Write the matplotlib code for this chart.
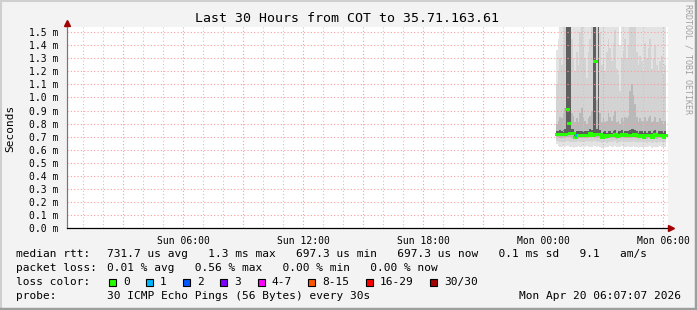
#!/usr/bin/env python3
import numpy as np
import matplotlib
matplotlib.use('Agg')
import matplotlib.pyplot as plt
from matplotlib.lines import Line2D
from matplotlib.patches import Rectangle

W, H = 697, 310
MONO = 'DejaVu Sans Mono'

# time axis in hours since Sun 00:00, smoke steps are 5 minutes long
x_min, x_max = 0.2, 30.25
t_start = 24.65
step_h = 5 / 60

# median rtt per step (ms) and lost pings per step
median = [0.719, 0.719, 0.721, 0.721, 0.719, 0.722, 0.915, 0.808, 0.727, 0.727,
          0.727, 0.698, 0.714, 0.716, 0.712, 0.714, 0.714, 0.716, 0.712, 0.714,
          0.727, 0.724, 0.716, 1.277, 0.720, 0.722, 0.718, 0.700, 0.712, 0.716,
          0.706, 0.712, 0.716, 0.709, 0.712, 0.722, 0.706, 0.716, 0.712, 0.722,
          0.709, 0.718, 0.712, 0.716, 0.712, 0.716, 0.720, 0.718, 0.712, 0.706,
          0.716, 0.712, 0.700, 0.716, 0.709, 0.712, 0.716, 0.700, 0.712, 0.718,
          0.709, 0.712, 0.716, 0.712, 0.700, 0.712]
loss = [0] * 12 + [1] + [0] * 53

# smoke: ping rtt quantiles per step (ms)
p_min = [0.64, 0.63, 0.62, 0.62, 0.63, 0.62, 0.63, 0.63, 0.62, 0.62,
         0.61, 0.62, 0.62, 0.63, 0.62, 0.62, 0.63, 0.62, 0.63, 0.62,
         0.62, 0.62, 0.63, 0.63, 0.62, 0.63, 0.62, 0.61, 0.62, 0.62,
         0.62, 0.62, 0.63, 0.62, 0.62, 0.63, 0.62, 0.62, 0.62, 0.63,
         0.62, 0.62, 0.62, 0.63, 0.62, 0.62, 0.63, 0.62, 0.62, 0.61,
         0.62, 0.62, 0.61, 0.62, 0.62, 0.62, 0.63, 0.61, 0.62, 0.62,
         0.62, 0.62, 0.63, 0.62, 0.61, 0.62]
p10 = [0.67, 0.67, 0.66, 0.66, 0.67, 0.66, 0.67, 0.67, 0.66, 0.66,
       0.66, 0.66, 0.66, 0.67, 0.66, 0.66, 0.66, 0.66, 0.67, 0.66,
       0.67, 0.66, 0.67, 0.67, 0.66, 0.67, 0.66, 0.65, 0.66, 0.66,
       0.65, 0.66, 0.66, 0.66, 0.66, 0.67, 0.65, 0.66, 0.66, 0.67,
       0.66, 0.66, 0.66, 0.66, 0.66, 0.66, 0.67, 0.66, 0.66, 0.65,
       0.66, 0.66, 0.65, 0.66, 0.65, 0.66, 0.66, 0.65, 0.66, 0.66,
       0.65, 0.66, 0.66, 0.66, 0.65, 0.66]
p25 = [0.70, 0.70, 0.69, 0.69, 0.70, 0.69, 0.70, 0.70, 0.70, 0.69,
       0.69, 0.68, 0.69, 0.69, 0.69, 0.69, 0.69, 0.69, 0.69, 0.69,
       0.70, 0.70, 0.70, 0.70, 0.69, 0.70, 0.69, 0.68, 0.69, 0.69,
       0.68, 0.69, 0.69, 0.69, 0.69, 0.70, 0.68, 0.69, 0.69, 0.70,
       0.69, 0.69, 0.69, 0.69, 0.69, 0.69, 0.70, 0.69, 0.69, 0.68,
       0.69, 0.69, 0.68, 0.69, 0.68, 0.69, 0.69, 0.68, 0.69, 0.69,
       0.68, 0.69, 0.69, 0.69, 0.68, 0.69]
p40 = [0.71, 0.71, 0.71, 0.71, 0.71, 0.71, 0.72, 0.72, 0.72, 0.71,
       0.71, 0.69, 0.70, 0.71, 0.70, 0.70, 0.70, 0.71, 0.70, 0.70,
       0.71, 0.71, 0.72, 0.73, 0.71, 0.72, 0.71, 0.69, 0.70, 0.71,
       0.70, 0.70, 0.71, 0.70, 0.70, 0.71, 0.70, 0.71, 0.70, 0.71,
       0.70, 0.71, 0.70, 0.71, 0.70, 0.71, 0.71, 0.71, 0.70, 0.70,
       0.71, 0.70, 0.69, 0.71, 0.70, 0.70, 0.71, 0.69, 0.70, 0.71,
       0.70, 0.70, 0.71, 0.70, 0.69, 0.70]
p60 = [0.74, 0.74, 0.75, 0.74, 0.75, 0.76, 2.00, 2.00, 1.90, 0.76,
       0.76, 0.73, 0.74, 0.74, 0.74, 0.74, 0.74, 0.74, 0.74, 0.74,
       0.76, 0.75, 2.00, 2.00, 0.76, 1.80, 0.75, 0.73, 0.74, 0.74,
       0.73, 0.74, 0.74, 0.73, 0.74, 0.75, 0.73, 0.74, 0.74, 0.75,
       0.73, 0.74, 0.74, 0.74, 0.75, 0.76, 0.76, 0.75, 0.74, 0.73,
       0.74, 0.74, 0.73, 0.74, 0.73, 0.74, 0.74, 0.73, 0.74, 0.75,
       0.73, 0.74, 0.74, 0.74, 0.73, 0.74]
p75 = [0.80, 0.82, 0.85, 0.84, 0.88, 0.92, 2.00, 2.00, 2.00, 0.88,
       0.86, 0.81, 0.84, 0.81, 0.88, 0.92, 0.85, 0.82, 0.80, 0.84,
       0.86, 0.90, 2.00, 2.00, 0.98, 2.00, 0.88, 0.81, 0.84, 0.81,
       0.82, 0.88, 0.85, 0.82, 0.86, 0.90, 0.81, 0.82, 0.80, 0.84,
       0.82, 0.85, 0.84, 0.86, 1.05, 1.10, 1.02, 0.95, 0.85, 0.81,
       0.84, 0.82, 0.81, 0.85, 0.82, 0.84, 0.86, 0.81, 0.82, 0.85,
       0.81, 0.81, 0.84, 0.82, 0.80, 0.82]
p90 = [1.10, 1.20, 1.30, 1.25, 1.40, 1.60, 2.00, 2.00, 2.00, 1.45,
       1.30, 1.20, 1.35, 1.25, 1.50, 1.60, 1.40, 1.30, 1.15, 1.35,
       1.45, 1.55, 2.00, 2.00, 1.70, 2.00, 1.50, 1.25, 1.30, 1.20,
       1.35, 1.45, 1.38, 1.28, 1.42, 1.52, 1.22, 1.18, 1.05, 1.30,
       1.35, 1.45, 1.30, 1.40, 1.80, 1.90, 1.75, 1.60, 1.35, 1.25,
       1.32, 1.28, 1.20, 1.42, 1.30, 1.38, 1.45, 1.22, 1.30, 1.40,
       1.25, 1.20, 1.28, 1.32, 1.18, 1.25]
p_max = [1.36, 1.45, 2.00, 2.00, 2.00, 2.00, 2.00, 2.00, 2.00, 2.00,
         2.00, 2.00, 2.00, 2.00, 2.00, 2.00, 2.00, 2.00, 2.00, 2.00,
         2.00, 2.00, 2.00, 2.00, 2.00, 2.00, 2.00, 2.00, 2.00, 2.00,
         2.00, 2.00, 2.00, 2.00, 2.00, 2.00, 2.00, 1.65, 1.40, 2.00,
         2.00, 2.00, 2.00, 2.00, 2.00, 2.00, 2.00, 2.00, 2.00, 2.00,
         2.00, 2.00, 2.00, 2.00, 2.00, 2.00, 2.00, 2.00, 2.00, 2.00,
         1.80, 1.70, 2.00, 2.00, 1.60, 2.00]

x_tick_hours = [6, 12, 18, 24, 30]
x_tick_labels = ['Sun 06:00', 'Sun 12:00', 'Sun 18:00', 'Mon 00:00', 'Mon 06:00']
y_ticks = [i / 10 for i in range(16)]

loss_labels = ['0', '1', '2', '3', '4-7', '8-15', '16-29', '30/30']
loss_colors = ['#26ff00', '#00b8ff', '#0059ff', '#7e00ff',
               '#ff00ff', '#ff5500', '#ff0000', '#a10000']
loss_bins = [0, 1, 2, 3, 7, 15, 29, 30]

stats_rows = [
    ('median rtt:', '731.7 us avg   1.3 ms max   697.3 us min   697.3 us now   0.1 ms sd   9.1   am/s'),
    ('packet loss:', '0.01 % avg   0.56 % max   0.00 % min   0.00 % now'),
    ('loss color:', ''),
    ('probe:', '30 ICMP Echo Pings (56 Bytes) every 30s'),
]
stamp = 'Mon Apr 20 06:07:07 2026'


def fx(x):
    return x / W


def fy(y):
    return 1 - y / H


fig = plt.figure(figsize=(W / 100, H / 100), dpi=100, facecolor='#f3f3f3')
ax = fig.add_axes([fx(67), fy(228), (668 - 67) / W, (228 - 27) / H])
ax.set_facecolor('white')
ax.set_xlim(x_min, x_max)
ax.set_ylim(0, 1.54)

# smoke bands, outermost first
edges = t_start + step_h * np.arange(len(median) + 1)
def ext(a):
    return np.append(a, a[-1])
bands = [(p_min, p_max, '#e3e3e3'), (p10, p90, '#d3d3d3'),
         (p25, p75, '#b9b9b9'), (p40, p60, '#5e5e5e')]
for lo, hi, col in bands:
    ax.fill_between(edges, ext(lo), ext(hi), step='post', color=col,
                    linewidth=0, antialiased=False, zorder=1)

# grid
for h in range(1, 31):
    col = '#ff9a9a' if h % 3 == 0 else '#c8c8c8'
    ax.axvline(h, color=col, lw=0.8, ls=(0, (1, 2)), zorder=2)
for v in y_ticks[1:]:
    ax.axhline(v, color='#ff9a9a', lw=0.8, ls=(0, (1, 2)), zorder=2)

# median coloured by loss
for i, m in enumerate(median):
    k = next(j for j, b in enumerate(loss_bins) if loss[i] <= b)
    ax.hlines(m, edges[i], edges[i + 1], colors=loss_colors[k], lw=1.8,
              zorder=3, capstyle='projecting', antialiased=False)

ax.set_xticks(x_tick_hours)
ax.set_xticklabels(x_tick_labels, family=MONO, fontsize=7)
ax.set_yticks(y_ticks)
ax.set_yticklabels([f'{v:.1f} m' for v in y_ticks], family=MONO, fontsize=7)
ax.tick_params(length=0, pad=6)
for s in ['top', 'right']:
    ax.spines[s].set_visible(False)
ax.spines['left'].set_color('#777777')
ax.spines['bottom'].set_color('#000000')

# axis extensions with arrows
fig.add_artist(Line2D([fx(67), fx(67)], [fy(228), fy(24)], color='#777777', lw=0.8))
fig.add_artist(Line2D([fx(67), fx(670)], [fy(228), fy(228)], color='#000000', lw=0.8))
fig.add_artist(Line2D([fx(67)], [fy(23)], marker='^', ms=4.5, color='#a00000', mec='#a00000'))
fig.add_artist(Line2D([fx(671)], [fy(228)], marker='>', ms=4.5, color='#a00000', mec='#a00000'))

fig.text(fx(347), fy(18), 'Last 30 Hours from COT to 35.71.163.61',
         family=MONO, fontsize=9.5, ha='center', va='center')
fig.text(fx(10), fy(128), 'Seconds', family=MONO, fontsize=8,
         rotation=90, ha='center', va='center')
fig.text(fx(688), fy(4), 'RRDTOOL / TOBI OETIKER', family=MONO, fontsize=6,
         color='#a0a0a0', rotation=270, ha='center', va='top')

rows_y = [254, 268, 282, 296]
for (label, value), y in zip(stats_rows, rows_y):
    fig.text(fx(16), fy(y), label, family=MONO, fontsize=8, va='center')
    if value:
        fig.text(fx(107), fy(y), value, family=MONO, fontsize=8, va='center')

bx = 108.7
for lab, col in zip(loss_labels, loss_colors):
    fig.add_artist(Rectangle((fx(bx), fy(285.5)), 7 / W, 7 / H, facecolor=col,
                             edgecolor='black', lw=0.8))
    fig.text(fx(bx + 14.3), fy(282), lab, family=MONO, fontsize=8, va='center')
    bx += 37.2 + (len(lab) - 1) * 6.8

fig.text(fx(681), fy(296), stamp, family=MONO, fontsize=8, ha='right', va='center')

# 3d frame
fig.add_artist(Line2D([0, 1], [fy(0.5), fy(0.5)], color='#cfcfcf', lw=1.5))
fig.add_artist(Line2D([fx(0.5), fx(0.5)], [0, 1], color='#cfcfcf', lw=1.5))
fig.add_artist(Line2D([0, 1], [fy(308.5), fy(308.5)], color='#9e9e9e', lw=2.5))
fig.add_artist(Line2D([fx(695.5), fx(695.5)], [0, 1], color='#9e9e9e', lw=2.5))

fig.savefig('out.png', dpi=100, facecolor=fig.get_facecolor())
